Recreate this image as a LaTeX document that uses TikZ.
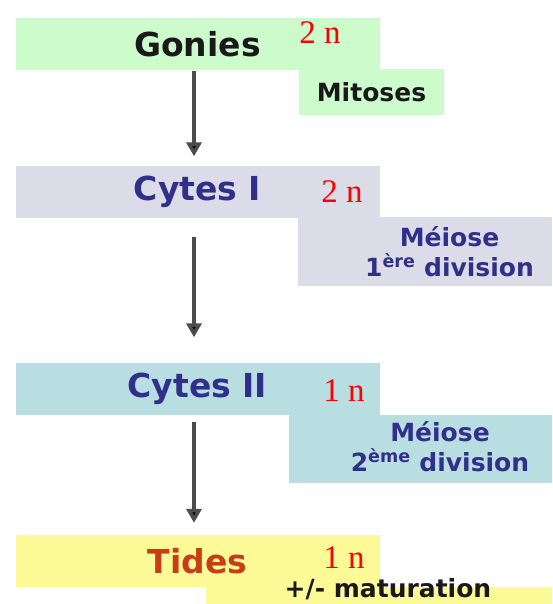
\documentclass[tikz,border=0pt]{standalone}
\usepackage{fontspec}
\setmainfont{Liberation Serif}
\newfontfamily\comicfont{DejaVu Sans}
\usetikzlibrary{arrows.meta}

\definecolor{gonieGreen}{HTML}{CCFCCC}
\definecolor{cyteGray}{HTML}{DCDCE8}
\definecolor{cyteBlue}{HTML}{B9DEE2}
\definecolor{tideYellow}{HTML}{FCFA96}
\definecolor{labelBlue}{HTML}{30308A}
\definecolor{tideRed}{HTML}{C83C18}

\tikzset{
  band/.style={fill=#1, minimum width=364pt, minimum height=52pt, inner sep=0pt,
    font=\comicfont\bfseries\fontsize{33}{36}\selectfont},
  subbox/.style={fill=#1, inner sep=0pt},
  subtext/.style={font=\comicfont\bfseries\fontsize{25}{30}\selectfont, align=center},
  ploidy/.style={text=red, font=\fontsize{33}{33}\selectfont, anchor=base},
  flow/.style={line width=3.5pt, draw=black!70, -{Triangle[width=15pt,length=14pt,fill=black]}}
}

\begin{document}
\begin{tikzpicture}[x=1pt, y=-1pt]

  \clip (0,0) rectangle (552,604);

  % Stage bands
  \node[band=gonieGreen, text=black!90] (gonies) at (197.5,44.5) {Gonies};
  \node[band=cyteGray, text=labelBlue] (cytesI) at (197.5,191.5) {Cytes I};
  \node[band=cyteBlue, text=labelBlue] (cytesII) at (197.5,388.5) {Cytes II};
  \node[band=tideYellow, text=tideRed] (tides) at (197.5,561) {Tides};

  % Division boxes
  \node[subbox=gonieGreen, minimum width=145pt, minimum height=46pt,
        subtext, text=black!90] (mitoses) at (371.5,92) {Mitoses};
  \node[subbox=cyteGray, minimum width=254pt, minimum height=69pt] (meioseI) at (425,251.5) {};
  \node[subbox=cyteBlue, minimum width=263pt, minimum height=68pt] (meioseII) at (420.5,449) {};
  \node[subbox=tideYellow, minimum width=346pt, minimum height=17pt, anchor=north] (matur) at (379,587) {};

  \node[subtext, text=labelBlue] (meioseItext) at (449.5,252) {Méiose\\1\textsuperscript{ère} division};
  \node[subtext, text=labelBlue] (meioseIItext) at (440,447) {Méiose\\2\textsuperscript{ème} division};
  \node[subtext, anchor=base, inner sep=0pt, text=black!90] (maturtext) at (388,597) {+/- maturation};

  % Ploidy
  \node[ploidy] (nGonies) at (320,44) {2 n};
  \node[ploidy] (nCytesI) at (342,202) {2 n};
  \node[ploidy] (nCytesII) at (344,401) {1 n};
  \node[ploidy] (nTides) at (344,568) {1 n};

  % Arrows
  \draw[flow, shorten >=9pt] ([xshift=-3.5pt]gonies.south) -- ([xshift=-3.5pt]cytesI.north);
  \draw[flow, shorten <=19pt, shorten >=25pt] ([xshift=-3.5pt]cytesI.south) -- ([xshift=-3.5pt]cytesII.north);
  \draw[flow, shorten <=7pt, shorten >=12pt] ([xshift=-3.5pt]cytesII.south) -- ([xshift=-3.5pt]tides.north);

\end{tikzpicture}
\end{document}
